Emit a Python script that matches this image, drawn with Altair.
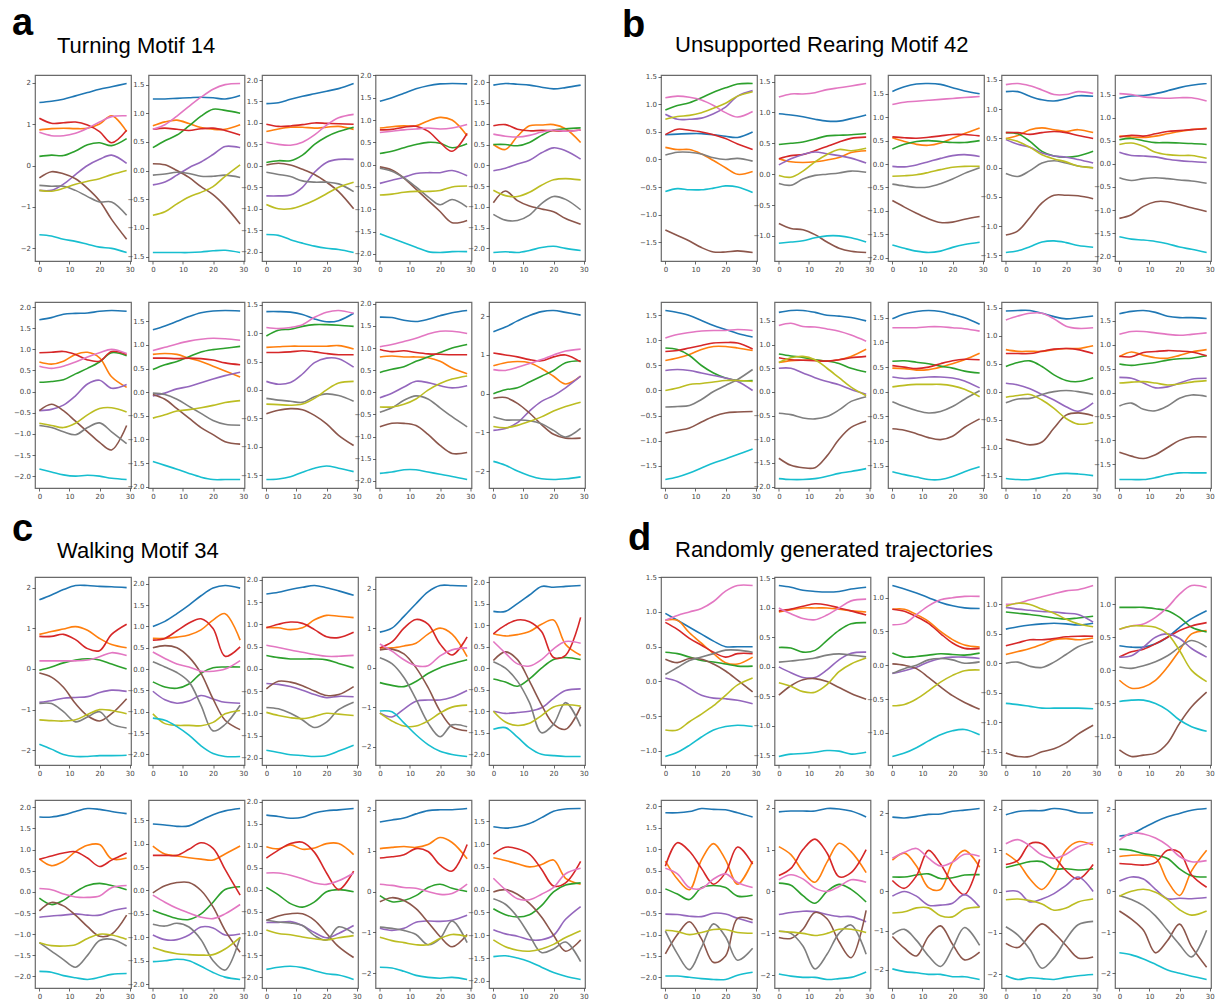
import math
import altair as alt
import pandas as pd

# sample positions along each trajectory (frame index)
X = [0, 4, 8, 12, 16, 20, 24, 29]
SERIES = ["s0", "s1", "s2", "s3", "s4", "s5", "s6", "s7", "s8", "s9"]
COLORS = ["#1f77b4", "#ff7f0e", "#2ca02c", "#d62728", "#9467bd",
          "#8c564b", "#e377c2", "#7f7f7f", "#bcbd22", "#17becf"]
XTICKS = [0, 10, 20, 30]

# each panel: 10 series in order blue, orange, green, red, purple, brown, pink, gray, olive, cyan
A1 = [[1.52,1.55,1.6,1.68,1.76,1.84,1.9,1.98],[0.86,0.89,0.9,0.89,0.9,1.0,1.2,0.82],[0.22,0.25,0.24,0.35,0.5,0.55,0.48,0.65],[1.14,1.02,1.03,1.05,0.98,0.82,0.55,0.85],[-0.6,-0.6,-0.45,-0.22,0.0,0.15,0.25,0.05],[-0.3,-0.15,-0.2,-0.32,-0.55,-0.85,-1.3,-1.78],[0.8,0.72,0.72,0.78,0.9,1.05,1.18,1.2],[-0.48,-0.5,-0.5,-0.6,-0.75,-0.88,-0.88,-1.2],[-0.6,-0.62,-0.55,-0.45,-0.38,-0.32,-0.22,-0.12],[-1.67,-1.7,-1.78,-1.83,-1.9,-1.97,-2.0,-2.1]]
A2 = [[1.25,1.25,1.26,1.27,1.28,1.27,1.25,1.31],[0.78,0.85,0.88,0.82,0.75,0.72,0.72,0.8],[0.4,0.52,0.62,0.78,0.95,1.07,1.05,1.0],[0.72,0.74,0.72,0.7,0.73,0.74,0.7,0.62],[-0.25,-0.2,-0.08,0.05,0.15,0.28,0.42,0.4],[0.12,0.1,0.0,-0.12,-0.28,-0.42,-0.62,-0.93],[0.72,0.8,0.95,1.12,1.28,1.42,1.5,1.52],[-0.08,-0.06,-0.03,-0.05,-0.1,-0.1,-0.08,-0.12],[-0.78,-0.72,-0.58,-0.46,-0.38,-0.28,-0.1,0.1],[-1.43,-1.43,-1.43,-1.43,-1.42,-1.4,-1.39,-1.43]]
A3 = [[1.45,1.47,1.55,1.62,1.68,1.74,1.8,1.92],[0.8,0.86,0.9,0.9,0.88,0.9,0.92,0.85],[0.08,0.12,0.12,0.25,0.5,0.68,0.8,0.9],[0.97,0.92,0.93,0.96,1.0,0.99,0.98,0.97],[-0.7,-0.7,-0.68,-0.5,-0.15,0.08,0.15,0.15],[0.02,0.06,0.02,-0.08,-0.2,-0.38,-0.6,-1.0],[0.55,0.5,0.48,0.55,0.72,0.95,1.12,1.2],[-0.15,-0.2,-0.25,-0.35,-0.38,-0.38,-0.42,-0.6],[-0.9,-1.0,-1.0,-0.92,-0.8,-0.65,-0.5,-0.38],[-1.6,-1.62,-1.72,-1.8,-1.87,-1.92,-1.95,-2.02]]
A4 = [[1.42,1.5,1.6,1.7,1.77,1.81,1.82,1.81],[0.82,0.85,0.87,0.87,0.98,1.06,1.0,0.65],[0.25,0.3,0.38,0.45,0.5,0.48,0.38,0.47],[0.78,0.79,0.84,0.86,0.75,0.5,0.3,0.7],[-0.42,-0.35,-0.28,-0.2,-0.18,-0.18,-0.13,-0.25],[-0.05,-0.12,-0.3,-0.55,-0.8,-1.05,-1.3,-1.25],[0.72,0.75,0.78,0.8,0.82,0.8,0.82,0.9],[-0.08,-0.15,-0.3,-0.5,-0.72,-0.9,-0.78,-0.95],[-0.68,-0.66,-0.62,-0.6,-0.6,-0.58,-0.5,-0.48],[-1.55,-1.65,-1.75,-1.85,-1.95,-1.97,-1.95,-1.95]]
A5 = [[1.93,1.97,1.95,1.93,1.88,1.84,1.87,1.93],[0.5,0.38,0.7,0.95,0.97,0.98,0.88,0.55],[0.5,0.5,0.47,0.55,0.72,0.85,0.88,0.9],[0.95,0.98,0.87,0.83,0.84,0.83,0.82,0.85],[-0.13,-0.07,0.03,0.12,0.3,0.42,0.35,0.15],[-0.9,-0.62,-0.85,-0.98,-1.05,-1.12,-1.28,-1.42],[0.75,0.7,0.68,0.72,0.8,0.85,0.82,0.85],[-1.18,-1.32,-1.33,-1.2,-0.92,-0.75,-0.82,-1.07],[-0.6,-0.73,-0.75,-0.65,-0.48,-0.35,-0.32,-0.35],[-2.1,-2.08,-2.1,-2.05,-1.98,-1.95,-2.0,-2.05]]
A6 = [[1.7,1.75,1.83,1.85,1.86,1.9,1.92,1.9],[0.7,0.65,0.72,0.88,0.93,0.8,0.35,0.1],[0.22,0.24,0.28,0.42,0.55,0.7,0.92,0.85],[0.92,0.93,0.95,0.88,0.75,0.72,0.95,0.88],[-0.45,-0.42,-0.32,-0.1,0.18,0.27,0.08,0.17],[-0.45,-0.3,-0.45,-0.7,-0.95,-1.2,-1.38,-0.8],[0.6,0.55,0.6,0.7,0.82,0.92,1.0,0.9],[-0.8,-0.85,-0.95,-1.02,-0.85,-0.74,-0.95,-1.23],[-0.75,-0.8,-0.85,-0.75,-0.55,-0.4,-0.38,-0.48],[-1.83,-1.9,-1.97,-2.0,-1.98,-2.0,-2.05,-2.08]]
A7 = [[1.32,1.4,1.5,1.6,1.68,1.72,1.73,1.72],[0.8,0.82,0.8,0.72,0.65,0.55,0.45,0.32],[0.48,0.58,0.65,0.75,0.85,0.9,0.93,0.97],[0.72,0.72,0.71,0.72,0.71,0.68,0.62,0.58],[-0.08,-0.02,0.07,0.12,0.2,0.28,0.35,0.42],[-0.05,-0.15,-0.35,-0.55,-0.75,-0.9,-1.05,-1.1],[0.88,0.95,1.02,1.08,1.12,1.14,1.13,1.1],[-0.02,-0.05,-0.15,-0.3,-0.45,-0.6,-0.68,-0.7],[-0.55,-0.48,-0.4,-0.37,-0.33,-0.28,-0.22,-0.18],[-1.47,-1.55,-1.63,-1.72,-1.8,-1.85,-1.85,-1.85]]
A8 = [[1.38,1.38,1.37,1.33,1.25,1.2,1.22,1.35],[0.75,0.76,0.77,0.77,0.77,0.77,0.78,0.72],[0.95,1.05,1.07,1.12,1.15,1.15,1.14,1.12],[0.66,0.66,0.67,0.69,0.67,0.64,0.62,0.62],[0.15,0.1,0.13,0.28,0.48,0.56,0.55,0.4],[-0.42,-0.36,-0.33,-0.35,-0.45,-0.6,-0.8,-0.98],[1.1,1.08,1.1,1.15,1.28,1.37,1.4,1.35],[-0.15,-0.18,-0.2,-0.22,-0.12,-0.07,-0.1,-0.2],[-0.25,-0.26,-0.27,-0.25,-0.15,0.0,0.12,0.15],[-1.58,-1.57,-1.53,-1.45,-1.38,-1.34,-1.38,-1.44]]
A9 = [[1.7,1.69,1.63,1.6,1.65,1.73,1.8,1.85],[0.8,0.82,0.8,0.8,0.78,0.7,0.55,0.42],[0.45,0.52,0.58,0.7,0.8,0.9,1.0,1.08],[0.97,0.92,0.94,0.9,0.87,0.86,0.85,0.85],[-0.12,-0.02,0.12,0.25,0.22,0.15,0.1,0.15],[-0.78,-0.7,-0.7,-0.75,-0.95,-1.2,-1.38,-1.36],[1.03,1.08,1.15,1.22,1.32,1.38,1.38,1.33],[-0.45,-0.35,-0.18,-0.08,-0.15,-0.35,-0.55,-0.78],[-0.33,-0.33,-0.27,-0.15,0.05,0.2,0.3,0.37],[-1.83,-1.8,-1.75,-1.75,-1.8,-1.85,-1.9,-1.97]]
A10 = [[1.6,1.72,1.88,2.02,2.12,2.15,2.1,2.03],[0.72,0.8,0.83,0.8,0.65,0.45,0.25,0.45],[0.0,0.1,0.15,0.3,0.45,0.6,0.8,0.85],[1.05,1.0,0.95,0.88,0.85,0.95,1.0,0.82],[-0.95,-0.9,-0.75,-0.45,-0.2,-0.05,0.15,0.45],[-0.12,-0.1,-0.25,-0.5,-0.8,-1.05,-1.15,-1.15],[0.62,0.6,0.68,0.78,0.88,1.0,1.1,1.15],[-0.6,-0.68,-0.68,-0.7,-0.78,-0.95,-1.12,-0.9],[-0.85,-0.88,-0.82,-0.72,-0.6,-0.45,-0.33,-0.22],[-1.75,-1.85,-2.0,-2.12,-2.2,-2.22,-2.2,-2.15]]

B1 = [[0.45,0.46,0.47,0.47,0.45,0.42,0.4,0.5],[0.22,0.18,0.18,0.1,-0.02,-0.15,-0.27,-0.22],[0.9,0.98,1.03,1.12,1.22,1.3,1.37,1.38],[0.45,0.55,0.53,0.5,0.45,0.38,0.28,0.18],[0.82,0.73,0.73,0.75,0.83,0.95,1.15,1.25],[-1.28,-1.38,-1.48,-1.6,-1.68,-1.68,-1.66,-1.69],[1.12,1.15,1.13,1.08,0.98,0.85,0.77,0.87],[0.08,0.13,0.13,0.1,0.03,0.0,0.02,-0.03],[0.73,0.78,0.8,0.85,0.93,1.02,1.15,1.23],[-0.58,-0.53,-0.55,-0.55,-0.52,-0.48,-0.5,-0.6]]
B2 = [[0.98,0.96,0.93,0.89,0.86,0.86,0.9,0.96],[0.25,0.2,0.19,0.2,0.23,0.27,0.35,0.38],[0.48,0.5,0.52,0.57,0.62,0.63,0.64,0.66],[0.25,0.3,0.32,0.38,0.45,0.52,0.58,0.6],[0.15,0.25,0.32,0.36,0.33,0.3,0.26,0.18],[-0.8,-0.88,-0.9,-0.98,-1.1,-1.2,-1.25,-1.27],[1.25,1.3,1.3,1.32,1.37,1.4,1.43,1.47],[-0.15,-0.18,-0.08,-0.02,0.0,0.02,0.05,0.03],[-0.02,-0.05,0.05,0.2,0.32,0.4,0.38,0.42],[-1.12,-1.1,-1.08,-1.03,-1.0,-1.0,-1.03,-1.1]]
B3 = [[1.55,1.65,1.71,1.72,1.7,1.63,1.56,1.5],[0.56,0.48,0.42,0.4,0.45,0.55,0.65,0.77],[0.32,0.42,0.48,0.5,0.48,0.46,0.46,0.5],[0.58,0.56,0.55,0.57,0.6,0.63,0.63,0.6],[-0.05,-0.06,-0.02,0.05,0.12,0.18,0.2,0.16],[-0.78,-0.92,-1.05,-1.17,-1.25,-1.24,-1.18,-1.12],[1.27,1.32,1.34,1.36,1.38,1.4,1.42,1.44],[-0.43,-0.47,-0.5,-0.49,-0.42,-0.32,-0.2,-0.08],[-0.26,-0.25,-0.23,-0.18,-0.12,-0.07,-0.05,-0.05],[-1.73,-1.8,-1.86,-1.89,-1.86,-1.78,-1.72,-1.67]]
B4 = [[1.3,1.3,1.22,1.16,1.14,1.18,1.23,1.22],[0.5,0.55,0.65,0.68,0.65,0.62,0.65,0.6],[0.6,0.58,0.45,0.28,0.2,0.18,0.2,0.28],[0.6,0.6,0.57,0.6,0.62,0.6,0.55,0.5],[0.48,0.4,0.35,0.25,0.2,0.18,0.14,0.08],[-1.15,-1.08,-0.85,-0.6,-0.47,-0.47,-0.48,-0.53],[1.42,1.44,1.4,1.33,1.25,1.25,1.3,1.27],[-0.1,-0.15,-0.05,0.08,0.12,0.08,0.03,0.0],[0.5,0.45,0.35,0.22,0.15,0.1,0.03,0.0],[-1.45,-1.42,-1.35,-1.27,-1.25,-1.28,-1.33,-1.36]]
B5 = [[1.42,1.47,1.48,1.52,1.58,1.65,1.7,1.74],[0.6,0.58,0.57,0.6,0.65,0.7,0.74,0.77],[0.52,0.55,0.5,0.46,0.46,0.45,0.44,0.42],[0.58,0.62,0.6,0.65,0.7,0.72,0.74,0.76],[0.25,0.18,0.17,0.15,0.1,0.07,0.05,0.03],[-1.18,-1.1,-0.92,-0.82,-0.82,-0.88,-0.95,-1.03],[1.52,1.5,1.45,1.43,1.42,1.43,1.43,1.36],[-0.3,-0.36,-0.32,-0.3,-0.32,-0.35,-0.37,-0.42],[0.42,0.45,0.38,0.25,0.2,0.18,0.18,0.12],[-1.58,-1.63,-1.65,-1.68,-1.73,-1.8,-1.85,-1.92]]
B6 = [[1.6,1.56,1.5,1.4,1.3,1.22,1.14,1.07],[0.6,0.65,0.72,0.82,0.88,0.88,0.85,0.8],[0.85,0.82,0.7,0.5,0.35,0.25,0.2,0.2],[0.78,0.8,0.85,0.9,0.95,0.96,0.95,0.83],[0.4,0.42,0.4,0.35,0.3,0.25,0.18,0.0],[-0.85,-0.8,-0.75,-0.63,-0.52,-0.45,-0.43,-0.42],[1.05,1.12,1.16,1.19,1.2,1.2,1.22,1.2],[-0.33,-0.32,-0.3,-0.18,-0.02,0.1,0.22,0.42],[0.0,0.05,0.12,0.14,0.17,0.2,0.2,0.18],[-1.78,-1.73,-1.65,-1.55,-1.45,-1.37,-1.28,-1.17]]
B7 = [[1.68,1.72,1.72,1.68,1.62,1.6,1.57,1.5],[0.62,0.66,0.67,0.67,0.65,0.68,0.75,0.9],[0.8,0.76,0.73,0.68,0.65,0.6,0.5,0.42],[0.72,0.68,0.67,0.66,0.65,0.68,0.72,0.75],[0.5,0.5,0.4,0.3,0.22,0.15,0.05,-0.05],[-1.4,-1.55,-1.6,-1.6,-1.35,-1.0,-0.75,-0.62],[1.4,1.45,1.38,1.37,1.33,1.28,1.2,1.07],[-0.45,-0.48,-0.55,-0.57,-0.52,-0.38,-0.2,-0.1],[0.62,0.72,0.75,0.68,0.5,0.3,0.1,-0.08],[-1.83,-1.85,-1.85,-1.83,-1.78,-1.72,-1.68,-1.62]]
B8 = [[1.48,1.58,1.63,1.65,1.63,1.57,1.5,1.37],[0.48,0.47,0.44,0.45,0.5,0.57,0.65,0.78],[0.62,0.63,0.6,0.57,0.52,0.48,0.42,0.38],[0.53,0.5,0.47,0.5,0.57,0.63,0.66,0.65],[0.3,0.27,0.28,0.3,0.3,0.28,0.22,0.08],[-0.75,-0.78,-0.85,-0.93,-0.97,-0.9,-0.72,-0.55],[1.3,1.3,1.3,1.32,1.32,1.3,1.28,1.23],[-0.2,-0.3,-0.38,-0.43,-0.4,-0.3,-0.15,0.02],[0.1,0.13,0.15,0.15,0.15,0.12,0.05,-0.1],[-1.62,-1.68,-1.73,-1.78,-1.78,-1.72,-1.62,-1.52]]
B9 = [[1.44,1.45,1.45,1.4,1.34,1.3,1.32,1.35],[0.75,0.72,0.72,0.72,0.75,0.77,0.77,0.82],[0.45,0.52,0.55,0.45,0.3,0.2,0.18,0.25],[0.68,0.68,0.68,0.72,0.76,0.77,0.75,0.68],[0.15,0.12,0.05,-0.05,-0.15,-0.27,-0.35,-0.2],[-0.85,-0.9,-0.95,-0.9,-0.65,-0.42,-0.38,-0.43],[1.28,1.35,1.4,1.4,1.3,1.17,1.13,1.14],[-0.2,-0.13,-0.12,-0.05,0.0,0.02,0.0,-0.05],[-0.1,-0.07,-0.05,-0.15,-0.3,-0.48,-0.58,-0.55],[-1.55,-1.57,-1.57,-1.53,-1.48,-1.46,-1.47,-1.5]]
B10 = [[1.65,1.7,1.72,1.68,1.6,1.57,1.57,1.55],[0.75,0.85,0.78,0.73,0.72,0.78,0.85,0.9],[0.6,0.57,0.6,0.63,0.68,0.71,0.72,0.77],[0.76,0.75,0.84,0.86,0.88,0.87,0.85,0.77],[0.32,0.3,0.2,0.1,0.12,0.2,0.28,0.3],[-1.25,-1.33,-1.38,-1.3,-1.15,-1.0,-0.93,-0.93],[1.22,1.28,1.28,1.25,1.22,1.2,1.22,1.25],[-0.28,-0.22,-0.35,-0.38,-0.28,-0.12,-0.05,-0.08],[0.2,0.22,0.23,0.2,0.16,0.18,0.22,0.25],[-1.82,-1.82,-1.82,-1.78,-1.72,-1.68,-1.68,-1.68]]

C1 = [[1.7,1.82,1.95,2.05,2.05,2.03,2.02,2.0],[0.85,0.92,0.98,1.04,0.95,0.75,0.6,0.52],[-0.03,0.05,0.15,0.22,0.25,0.22,0.12,0.0],[0.8,0.8,0.85,0.72,0.5,0.45,0.85,1.1],[-0.82,-0.78,-0.72,-0.7,-0.68,-0.58,-0.52,-0.55],[-0.1,-0.2,-0.45,-0.85,-1.15,-1.28,-1.1,-0.73],[0.2,0.2,0.2,0.2,0.22,0.3,0.4,0.33],[-0.85,-0.85,-1.05,-1.3,-1.18,-1.05,-1.35,-1.45],[-1.25,-1.27,-1.28,-1.25,-1.12,-1.0,-1.02,-1.1],[-1.85,-1.97,-2.1,-2.15,-2.15,-2.13,-2.13,-2.12]]
C2 = [[1.0,1.12,1.3,1.5,1.72,1.9,1.96,1.9],[0.72,0.72,0.75,0.8,0.92,1.15,1.3,0.68],[-0.3,-0.42,-0.45,-0.35,-0.1,0.03,0.05,0.05],[0.68,0.72,0.9,1.08,1.18,0.95,0.3,0.52],[-0.52,-0.72,-0.8,-0.75,-0.62,-0.7,-0.78,-0.8],[0.5,0.55,0.5,0.28,-0.1,-0.7,-1.2,-1.42],[0.4,0.25,0.12,0.05,-0.05,-0.05,0.0,0.2],[0.17,0.05,-0.08,-0.3,-0.85,-1.45,-1.3,-0.85],[-1.05,-1.28,-1.32,-1.32,-1.33,-1.25,-1.05,-0.97],[-1.15,-1.2,-1.35,-1.55,-1.8,-1.98,-2.05,-2.05]]
C3 = [[1.68,1.72,1.78,1.83,1.87,1.82,1.75,1.65],[0.93,0.92,0.88,0.92,1.1,1.2,1.18,1.15],[0.3,0.25,0.22,0.22,0.22,0.2,0.12,0.02],[0.92,1.0,1.05,1.02,0.88,0.72,0.7,0.82],[-0.33,-0.35,-0.4,-0.48,-0.58,-0.65,-0.62,-0.63],[-0.45,-0.28,-0.3,-0.38,-0.5,-0.6,-0.58,-0.4],[0.53,0.48,0.42,0.37,0.32,0.28,0.28,0.3],[-0.87,-0.9,-1.0,-1.15,-1.32,-1.2,-0.92,-0.75],[-0.98,-1.05,-1.1,-1.12,-1.07,-1.0,-1.02,-1.05],[-1.83,-1.88,-1.93,-1.95,-1.97,-1.95,-1.85,-1.72]]
C4 = [[0.9,1.0,1.3,1.62,1.92,2.08,2.08,2.07],[0.5,0.5,0.55,0.62,0.85,1.0,0.85,0.28],[-0.38,-0.45,-0.48,-0.35,-0.15,0.0,0.1,0.2],[0.5,0.65,1.0,1.22,1.1,0.6,0.32,0.78],[-1.15,-1.25,-1.05,-0.85,-0.82,-0.82,-0.75,-0.58],[0.45,0.47,0.35,0.0,-0.5,-1.1,-1.5,-1.6],[0.6,0.42,0.2,0.05,0.05,0.3,0.45,0.5],[0.25,0.1,-0.25,-0.8,-1.4,-1.75,-1.45,-1.5],[-1.15,-1.35,-1.48,-1.48,-1.35,-1.15,-1.0,-0.95],[-1.1,-1.12,-1.4,-1.7,-1.95,-2.12,-2.2,-2.25]]
C5 = [[1.32,1.32,1.5,1.7,1.9,1.88,1.9,1.92],[0.8,0.75,0.78,0.85,1.02,1.12,0.55,0.3],[-0.25,-0.32,-0.42,-0.25,0.0,0.2,0.25,0.2],[0.8,1.0,1.12,1.08,0.85,0.25,0.3,1.18],[-1.0,-1.05,-1.03,-1.0,-0.92,-0.7,-0.52,-0.48],[0.18,0.38,0.2,-0.3,-0.85,-1.3,-1.42,-0.9],[0.62,0.35,0.1,0.05,0.2,0.45,0.62,0.58],[0.15,0.0,-0.3,-0.8,-1.5,-1.3,-0.8,-1.35],[-1.0,-1.25,-1.33,-1.28,-1.1,-0.9,-0.85,-0.88],[-1.42,-1.38,-1.6,-1.85,-2.0,-2.03,-2.05,-2.05]]
C6 = [[1.77,1.77,1.82,1.9,1.97,1.95,1.9,1.85],[0.78,0.62,0.72,0.95,1.1,1.12,0.78,0.8],[-0.15,-0.3,-0.2,0.0,0.15,0.2,0.15,0.05],[0.77,0.85,0.92,0.95,0.8,0.6,0.75,0.92],[-0.6,-0.57,-0.55,-0.52,-0.55,-0.55,-0.45,-0.38],[-0.45,-0.25,-0.33,-0.55,-0.82,-1.05,-1.0,-0.55],[0.08,0.05,-0.05,-0.12,-0.13,-0.1,0.1,0.15],[-1.2,-1.4,-1.6,-1.78,-1.5,-1.15,-1.12,-1.28],[-1.2,-1.27,-1.28,-1.25,-1.1,-1.0,-1.02,-1.12],[-1.88,-1.9,-1.98,-2.03,-2.07,-2.02,-1.95,-1.93]]
C7 = [[1.42,1.4,1.37,1.38,1.5,1.62,1.7,1.75],[0.95,0.78,0.74,0.7,0.67,0.65,0.78,0.95],[-0.42,-0.52,-0.6,-0.62,-0.5,-0.25,0.02,0.08],[0.75,0.75,0.75,0.88,1.02,0.9,0.45,-0.1],[-0.95,-1.05,-1.05,-0.95,-0.78,-0.8,-0.95,-0.93],[-0.05,0.1,0.17,0.17,0.0,-0.35,-0.85,-1.32],[-0.1,-0.25,-0.38,-0.48,-0.57,-0.6,-0.5,-0.3],[-0.72,-0.76,-0.7,-0.78,-1.05,-1.5,-1.7,-1.0],[-1.22,-1.3,-1.35,-1.37,-1.38,-1.37,-1.25,-1.0],[-1.52,-1.5,-1.47,-1.5,-1.62,-1.75,-1.85,-1.9]]
C8 = [[1.7,1.67,1.63,1.65,1.75,1.8,1.82,1.85],[0.98,0.93,1.02,0.92,0.95,1.05,1.05,0.8],[0.05,-0.12,-0.32,-0.4,-0.28,-0.05,0.0,-0.05],[0.72,0.9,1.05,1.08,0.85,0.38,0.0,0.42],[-0.75,-0.75,-0.73,-0.82,-0.98,-1.1,-1.0,-0.82],[-0.7,-0.6,-0.55,-0.55,-0.7,-1.0,-1.3,-1.55],[0.38,0.38,0.33,0.25,0.15,0.12,0.2,0.38],[-0.7,-0.74,-0.76,-0.82,-1.05,-1.15,-0.85,-1.0],[-0.92,-1.0,-1.03,-1.08,-1.12,-1.15,-1.1,-1.05],[-1.82,-1.77,-1.75,-1.78,-1.85,-1.92,-1.95,-2.05]]
C9 = [[1.7,1.75,1.8,1.9,1.98,2.0,2.0,2.03],[1.05,1.08,1.1,1.08,1.15,1.32,1.2,0.8],[-0.1,-0.25,-0.22,-0.1,0.1,0.18,0.08,0.0],[0.82,0.85,0.9,1.05,0.98,0.65,0.5,1.15],[-0.9,-0.95,-0.9,-0.75,-0.72,-0.73,-0.7,-0.58],[-0.25,-0.15,-0.22,-0.42,-0.75,-1.1,-1.35,-1.05],[0.18,0.15,0.1,0.08,0.0,-0.07,-0.05,0.18],[-0.87,-0.9,-0.95,-1.05,-1.3,-1.15,-0.72,-1.25],[-1.12,-1.2,-1.25,-1.3,-1.3,-1.15,-1.05,-1.1],[-1.85,-1.87,-1.95,-2.05,-2.1,-2.12,-2.1,-2.15]]
C10 = [[1.38,1.35,1.38,1.45,1.58,1.72,1.77,1.78],[0.7,0.64,0.57,0.5,0.55,0.65,0.25,0.12],[-0.42,-0.55,-0.6,-0.55,-0.35,-0.05,0.1,0.15],[0.78,0.93,0.9,0.78,0.45,0.08,0.15,0.62],[-0.88,-0.97,-1.02,-1.1,-1.1,-1.0,-0.65,-0.37],[-0.05,0.0,-0.1,-0.3,-0.6,-1.0,-1.35,-1.1],[0.25,0.0,-0.2,-0.22,-0.1,0.05,0.35,0.47],[-0.2,-0.32,-0.6,-1.0,-1.38,-1.3,-1.15,-1.58],[-1.1,-1.25,-1.33,-1.35,-1.3,-1.2,-1.05,-0.9],[-1.47,-1.45,-1.5,-1.58,-1.7,-1.82,-1.9,-1.97]]

D1 = [[0.98,0.88,0.78,0.68,0.58,0.5,0.5,0.5],[0.88,0.88,0.7,0.55,0.4,0.27,0.25,0.35],[0.42,0.4,0.35,0.3,0.28,0.25,0.22,0.22],[0.85,0.75,0.62,0.52,0.42,0.35,0.4,0.4],[0.05,0.0,-0.1,-0.2,-0.24,-0.25,-0.27,-0.32],[0.32,0.27,0.33,0.32,0.25,0.15,0.02,-0.15],[0.88,0.95,1.0,1.05,1.15,1.3,1.38,1.38],[0.1,0.2,0.3,0.35,0.4,0.45,0.45,0.42],[-0.7,-0.7,-0.58,-0.47,-0.35,-0.2,-0.05,0.05],[-1.08,-1.02,-0.92,-0.8,-0.7,-0.65,-0.63,-0.65]]
D2 = [[1.38,1.35,1.3,1.28,1.27,1.28,1.32,1.35],[0.93,0.97,1.0,1.0,1.0,0.98,0.95,0.93],[0.33,0.32,0.25,0.28,0.45,0.62,0.73,0.75],[0.95,0.98,1.03,1.07,1.05,1.0,0.95,0.88],[0.0,-0.1,-0.18,-0.18,-0.05,0.12,0.23,0.25],[-0.48,-0.32,-0.22,-0.2,-0.25,-0.35,-0.45,-0.55],[1.0,0.9,0.82,0.8,0.88,1.0,1.12,1.15],[0.08,0.1,0.12,0.15,0.2,0.22,0.2,0.17],[-0.27,-0.33,-0.42,-0.43,-0.3,-0.08,0.05,0.15],[-1.52,-1.48,-1.47,-1.45,-1.42,-1.43,-1.48,-1.45]]
D3 = [[1.18,1.13,1.07,1.0,0.93,0.88,0.85,0.84],[0.83,0.83,0.75,0.65,0.5,0.38,0.3,0.27],[0.18,0.12,0.13,0.15,0.17,0.16,0.15,0.18],[0.83,0.8,0.72,0.62,0.47,0.33,0.25,0.25],[-0.12,-0.08,-0.03,0.05,0.1,0.12,0.12,0.1],[0.02,0.0,-0.05,-0.18,-0.32,-0.45,-0.55,-0.65],[0.6,0.62,0.75,0.88,0.97,1.0,1.02,1.02],[-0.12,-0.05,0.0,0.08,0.1,0.08,0.03,0.05],[-0.6,-0.58,-0.5,-0.38,-0.25,-0.15,-0.08,-0.07],[-1.35,-1.3,-1.22,-1.12,-1.03,-0.97,-0.95,-1.03]]
D4 = [[0.58,0.62,0.65,0.67,0.68,0.67,0.65,0.68],[0.15,0.2,0.25,0.32,0.4,0.42,0.4,0.43],[0.87,0.85,0.83,0.8,0.77,0.75,0.77,0.8],[0.3,0.35,0.4,0.4,0.42,0.45,0.46,0.46],[0.95,0.92,0.9,0.88,0.87,0.85,0.83,0.7],[-1.52,-1.58,-1.58,-1.5,-1.45,-1.35,-1.2,-1.05],[1.0,1.02,1.08,1.13,1.18,1.23,1.25,1.32],[0.0,0.02,-0.05,-0.07,0.02,0.15,0.28,0.37],[0.97,1.02,1.0,0.92,0.85,0.75,0.67,0.62],[-0.68,-0.7,-0.73,-0.76,-0.76,-0.76,-0.76,-0.77]]
D5 = [[0.37,0.35,0.35,0.4,0.5,0.65,0.78,0.9],[-0.15,-0.27,-0.25,-0.15,0.05,0.3,0.55,0.6],[0.95,0.95,0.95,0.93,0.9,0.8,0.65,0.58],[0.2,0.28,0.32,0.4,0.5,0.6,0.67,0.72],[0.2,0.22,0.35,0.5,0.55,0.48,0.33,0.2],[-1.2,-1.3,-1.28,-1.25,-1.1,-0.8,-0.55,-0.33],[0.62,0.67,0.7,0.8,0.95,1.15,1.28,1.25],[0.05,0.03,0.07,0.13,0.22,0.35,0.45,0.35],[0.62,0.67,0.67,0.65,0.55,0.3,0.0,-0.17],[-0.47,-0.45,-0.45,-0.5,-0.6,-0.75,-0.85,-0.92]]
D6 = [[1.85,1.85,1.88,1.95,1.93,1.92,1.85,1.75],[0.72,0.3,0.05,0.75,1.13,0.75,0.18,0.72],[0.07,-0.05,-0.18,0.1,0.15,0.1,-0.1,-0.08],[0.6,1.15,0.95,0.55,0.18,0.45,1.05,0.65],[-0.52,-0.53,-0.57,-0.58,-0.5,-0.52,-0.62,-0.72],[-1.45,-1.0,-0.7,-1.1,-1.65,-1.5,-0.62,-0.65],[0.55,0.42,0.1,0.08,0.3,0.42,0.22,0.1],[-0.92,-1.45,-1.82,-1.3,-0.75,-1.05,-1.6,-1.32],[-0.9,-0.93,-1.0,-0.95,-0.88,-0.88,-0.95,-0.97],[-1.97,-1.97,-2.0,-2.03,-2.05,-2.05,-1.95,-1.88]]
D7 = [[1.9,1.92,1.92,1.92,1.98,1.97,1.92,1.78],[1.07,0.88,0.48,0.22,0.7,1.15,0.95,0.45],[0.2,0.15,-0.1,-0.28,0.0,0.17,0.05,-0.25],[0.38,0.55,1.0,1.25,0.92,0.35,0.45,1.0],[-0.55,-0.5,-0.47,-0.48,-0.55,-0.6,-0.6,-0.72],[-1.1,-1.12,-0.9,-0.5,-0.65,-1.2,-1.58,-0.45],[0.28,0.4,0.3,0.08,0.0,0.12,0.28,0.22],[-0.95,-1.0,-1.3,-1.85,-1.5,-1.0,-0.8,-1.5],[-0.95,-0.97,-1.0,-1.05,-1.0,-0.9,-0.9,-0.98],[-1.97,-2.02,-2.05,-2.05,-2.1,-2.08,-2.05,-1.92]]
D8 = [[1.9,1.88,1.92,1.97,1.98,2.05,2.08,2.12],[0.8,0.98,0.65,0.1,0.05,0.75,1.05,0.62],[0.37,0.37,0.42,0.45,0.33,0.35,0.42,0.43],[0.28,0.08,0.4,1.05,0.7,0.2,-0.08,0.82],[-0.12,0.0,-0.12,-0.35,-0.35,-0.3,-0.08,-0.4],[-1.15,-1.45,-1.65,-1.15,-0.88,-1.35,-1.75,-1.55],[0.85,1.0,1.1,0.85,0.65,0.75,0.95,0.9],[-1.1,-0.97,-1.25,-1.65,-1.92,-1.45,-0.92,-1.38],[-0.55,-0.52,-0.42,-0.42,-0.62,-0.65,-0.45,-0.4],[-1.98,-2.05,-2.08,-2.12,-2.12,-2.18,-2.18,-2.25]]
D9 = [[1.85,1.93,1.95,1.95,2.0,1.97,1.9,1.9],[0.92,0.7,0.3,0.05,0.4,1.0,1.2,1.12],[0.58,0.65,0.72,0.72,0.55,0.55,0.52,0.55],[0.65,0.75,1.15,1.15,0.85,0.5,0.3,0.65],[0.0,0.0,-0.25,-0.18,-0.05,0.15,0.35,0.0],[-1.25,-1.35,-1.05,-0.78,-1.0,-1.3,-1.6,-1.58],[1.15,1.25,1.1,0.88,0.8,0.9,1.08,1.18],[-0.85,-1.05,-1.4,-1.85,-1.6,-1.15,-0.8,-0.72],[-0.2,-0.18,-0.22,-0.3,-0.45,-0.4,-0.25,-0.18],[-2.03,-2.12,-2.08,-2.1,-2.12,-2.07,-2.03,-2.0]]
D10 = [[1.35,1.4,1.55,1.7,1.82,1.9,1.98,2.02],[0.85,0.88,0.88,0.82,0.25,-0.1,0.5,1.0],[1.03,1.0,0.92,0.88,0.8,0.55,0.38,0.35],[0.68,0.66,0.64,0.7,1.0,0.95,0.4,0.1],[0.25,0.35,0.3,0.05,-0.18,-0.17,-0.18,-0.15],[-0.48,-0.68,-0.95,-1.5,-1.2,-0.8,-1.35,-1.85],[1.25,1.42,1.4,1.3,1.12,0.85,0.72,0.75],[-0.1,-0.2,-0.35,-0.6,-0.95,-1.3,-1.6,-0.95],[-0.12,0.0,0.05,-0.02,-0.2,-0.45,-0.58,-0.48],[-1.5,-1.55,-1.65,-1.78,-1.92,-2.0,-2.07,-2.15]]

# y tick step used on each panel (row 1 then row 2 of each group)
STEP_A = [1, .5, .5, .5, .5, .5, .5, .5, .5, 1]
STEP_B = [.5, .5, .5, .5, .5, .5, .5, .5, .5, .5]
STEP_C = [1, .5, .5, 1, .5, .5, .5, .5, 1, .5]
STEP_D = [.5, .5, .5, .5, .5, .5, 1, 1, 1, 1]

LETTERS = ["a", "b", "c", "d"]
TITLES = ["Turning Motif 14", "Unsupported Rearing Motif 42",
          "Walking Motif 34", "Randomly generated trajectories"]

W = 96
GAP = 17.5
MID = 41
H_AB = 186
H_CD = 188
FRAME = "#6a6a6a"


def panel(vals, step, h):
    rows = []
    for s, ys in zip(SERIES, vals):
        for x, y in zip(X, ys):
            rows.append({"t": x, "v": y, "s": s})
    df = pd.DataFrame(rows)
    allv = [y for ys in vals for y in ys]
    lo, hi = min(allv), max(allv)
    m = 0.05 * (hi - lo)
    lo, hi = lo - m, hi + m
    k0 = math.ceil(lo / step - 1e-9)
    k1 = math.floor(hi / step + 1e-9)
    ticks = [round(k * step, 3) for k in range(k0, k1 + 1)]
    fmt = "d" if step >= 1 else ".1f"
    return alt.Chart(df).mark_line(
        interpolate="catmull-rom", strokeWidth=1.6
    ).encode(
        x=alt.X("t:Q", title=None,
                scale=alt.Scale(domain=[-1.45, 30.45], nice=False, zero=False),
                axis=alt.Axis(values=XTICKS, format="d")),
        y=alt.Y("v:Q", title=None,
                scale=alt.Scale(domain=[lo, hi], nice=False, zero=False),
                axis=alt.Axis(values=ticks, format=fmt)),
        color=alt.Color("s:N", scale=alt.Scale(domain=SERIES, range=COLORS), legend=None),
    ).properties(width=W, height=h,
                 view=alt.ViewBackground(stroke=FRAME, strokeWidth=1.2))


def blank(w, h):
    return alt.Chart(pd.DataFrame({"k": [0]})).mark_point(
        opacity=0, size=1
    ).encode(x=alt.value(2), y=alt.value(2)).properties(width=w, height=h)


def header(letter, title, lx, ly, tx, ty, w, h):
    a = alt.Chart(pd.DataFrame({"t": [letter]})).mark_text(
        align="left", baseline="alphabetic", font="Liberation Sans",
        fontSize=38, fontWeight="bold", color="black"
    ).encode(text="t:N", x=alt.value(lx), y=alt.value(ly))
    b = alt.Chart(pd.DataFrame({"t": [title]})).mark_text(
        align="left", baseline="alphabetic", font="Liberation Sans",
        fontSize=22, color="black"
    ).encode(text="t:N", x=alt.value(tx), y=alt.value(ty))
    return alt.layer(a, b).properties(width=w, height=h)


def panel_row(left, sl, right, sr, h):
    cells = [panel(v, s, h) for v, s in zip(left, sl)]
    cells.append(blank(MID, h))
    cells += [panel(v, s, h) for v, s in zip(right, sr)]
    return cells


def blank_row(h):
    return [blank(W, h) for _ in range(5)] + [blank(MID, h)] + [blank(W, h) for _ in range(5)]


H1 = 75
H2 = 89
cells = []
cells += ([header(LETTERS[0], TITLES[0], -23, 35, 22, 53, W, H1)]
          + [blank(W, H1) for _ in range(4)] + [blank(MID, H1)]
          + [header(LETTERS[1], TITLES[1], -39, 37, 14, 52, W, H1)]
          + [blank(W, H1) for _ in range(4)])
cells += panel_row([A1, A2, A3, A4, A5], STEP_A[:5], [B1, B2, B3, B4, B5], STEP_B[:5], H_AB)
cells += blank_row(41)
cells += panel_row([A6, A7, A8, A9, A10], STEP_A[5:], [B6, B7, B8, B9, B10], STEP_B[5:], H_AB)
cells += ([header(LETTERS[2], TITLES[2], -23, 53, 22, 70, W, H2)]
          + [blank(W, H2) for _ in range(4)] + [blank(MID, H2)]
          + [header(LETTERS[3], TITLES[3], -33, 62, 14, 69, W, H2)]
          + [blank(W, H2) for _ in range(4)])
cells += panel_row([C1, C2, C3, C4, C5], STEP_C[:5], [D1, D2, D3, D4, D5], STEP_D[:5], H_CD)
cells += blank_row(35)
cells += panel_row([C6, C7, C8, C9, C10], STEP_C[5:], [D6, D7, D8, D9, D10], STEP_D[5:], H_CD)

chart = alt.concat(
    *cells, columns=11, spacing={"row": 0, "column": GAP}, align="each", bounds="flush"
).properties(
    padding={"left": 12, "top": 0, "right": 4, "bottom": 1}
).configure_view(
    stroke=None
).configure_axis(
    labelFont="DejaVu Sans", labelFontSize=7, labelColor="#444444",
    tickColor="#444444", tickSize=3, tickWidth=0.8, labelPadding=1.5,
    domain=False, grid=False, labelOverlap=False, labelFlush=False
)

chart.save("out.html", embed_options={"renderer": "svg", "actions": False})
